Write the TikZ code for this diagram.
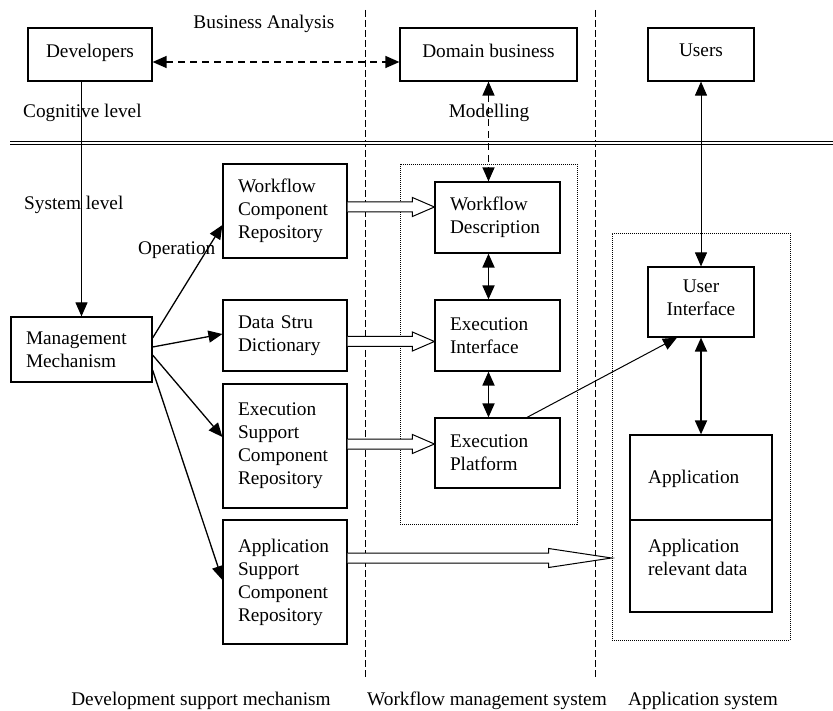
\documentclass[tikz,border=0pt]{standalone}
\usepackage{fontspec}
\setmainfont{Liberation Serif}
\usetikzlibrary{arrows.meta,calc}
\newcommand{\hollowarr}[3]{%
  \draw[line width=1pt, fill=white] let \p1=#1, \p2=#2 in
    (\x1,\y1+5pt) -- (\x2-#3,\y1+5pt) -- (\x2-#3,\y1+9.5pt) -- (\x2,\y1)
    -- (\x2-#3,\y1-9.5pt) -- (\x2-#3,\y1-5pt) -- (\x1,\y1-5pt);
}
\begin{document}
\begin{tikzpicture}[x=1pt,y=-1pt,
  font=\fontsize{19.3}{23}\selectfont,
  >={Triangle[length=14pt,width=12pt]},
  box/.style={draw, line width=1.2pt, inner sep=0pt},
  lbox/.style={box, inner xsep=15pt, align=left},
  dotbox/.style={draw, line width=0.8pt, dash pattern=on 1pt off 1pt, inner sep=0pt},
  vdash/.style={line width=0.8pt, dash pattern=on 7pt off 3pt},
  dasharr/.style={line width=1.3pt, dash pattern=on 7pt off 5pt},
  thinarr/.style={line width=1pt},
  midarr/.style={line width=1.3pt},
  thickarr/.style={line width=1.8pt},
  lbl/.style={inner sep=0pt}
]
\useasboundingbox (0,0) rectangle (833,711);

% separators
\draw[vdash] (365,10) -- (365,677);
\draw[vdash] (595,10) -- (595,677);
\draw[double, double distance=1.6pt, line width=0.9pt] (10,143) -- (833,143);

% dotted groups
\node[dotbox, minimum width=177pt, minimum height=360pt] (wfsys) at (488.5,344) {};
\node[dotbox, minimum width=178pt, minimum height=407pt] (appsys) at (701,436.5) {};

% top boxes
\node[box, minimum width=124pt, minimum height=53pt, text depth=8pt] (dev) at (90,54.5) {Developers};
\node[box, minimum width=177pt, minimum height=53pt, text depth=8pt] (dom) at (488.5,54.5) {Domain business};
\node[box, minimum width=106pt, minimum height=53pt, text depth=8pt] (users) at (701,54.5) {Users};

% left column
\node[lbox, text width=111pt, minimum height=65pt] (mgmt) at (81.5,349.5) {Management\\Mechanism};
\node[lbox, text width=94pt, minimum height=94pt] (wcr) at (285,211) {Workflow\\Component\\Repository};
\node[lbox, text width=94pt, minimum height=71pt] (dsd) at (285,335.5) {Data Stru\\Dictionary};
\node[lbox, text width=94pt, minimum height=124pt] (esr) at (285,446) {Execution\\Support\\Component\\Repository};
\node[lbox, text width=94pt, minimum height=124pt] (asr) at (285,582) {Application\\Support\\Component\\Repository};

% workflow management system
\node[lbox, text width=95pt, minimum height=71pt] (wd) at (497.5,217.5) {Workflow\\Description};
\node[lbox, text width=95pt, minimum height=71pt] (ei) at (497.5,335.5) {Execution\\Interface};
\node[lbox, text width=95pt, minimum height=70pt] (ep) at (497.5,453) {Execution\\Platform};

% application system
\node[box, minimum width=106pt, minimum height=70pt, align=center, text depth=8pt] (ui) at (701,302) {User\\Interface};
\node[box, minimum width=142pt, minimum height=177pt] (app) at (701,523.5) {};
\draw[line width=1.2pt] (app.west |- 0,520) -- (app.east |- 0,520);
\node[lbl, anchor=west, align=left] (apptxt) at (648,479) {Application};
\node[lbl, anchor=west, align=left] (appdata) at (648,557) {Application\\relevant data};

% labels
\node[anchor=base] (ba) at (264,29) {Business Analysis};
\node[lbl, anchor=base west] (cog) at (23,118) {Cognitive level};
\node[anchor=base] (mod) at (489,118) {Modelling};
\node[lbl, anchor=base west] (sys) at (24,210) {System level};
\node[lbl, anchor=base west] (op) at (138,255) {Operation};
\node[anchor=base] (l1) at (201,705) {Development support mechanism};
\node[anchor=base] (l2) at (487,705) {Workflow management system};
\node[anchor=base] (l3) at (703,705) {Application system};

% connectors
\draw[dasharr, <->] ($(dev.east)+(0,7.5)$) -- ($(dom.west)+(0,7.5)$);
\draw[dasharr, <->] (dom.south) -- (dom.south |- wd.north);
\draw[thinarr, ->] (mgmt.north |- dev.south) -- (mgmt.north);
\draw[thinarr, <->] (users) -- (ui);
\draw[thickarr, <->] (dom.south |- wd.south) -- (dom.south |- ei.north);
\draw[thickarr, <->] (dom.south |- ei.south) -- (dom.south |- ep.north);
\draw[thinarr, ->] ($(ep.north)+(29.5,0)$) -- ($(ui.south)+(-24,0)$);
\draw[thickarr, <->] (ui) -- (app);

\draw[midarr, ->] ($(mgmt.east)+(0,-11.5)$) -- ($(wcr.west)+(0,14)$);
\draw[midarr, ->] ($(mgmt.east)+(0,-2.5)$) -- ($(dsd.west)+(0,-1.5)$);
\draw[midarr, ->] ($(mgmt.east)+(0,5.5)$) -- ($(esr.west)+(0,-9)$);
\draw[midarr, ->] ($(mgmt.east)+(0,20.5)$) -- ($(asr.west)+(0,-2)$);

\hollowarr{($(wcr.east)+(0,-4)$)}{(wd.west)}{22pt}
\hollowarr{($(dsd.east)+(0,6)$)}{(ei.west)}{22pt}
\hollowarr{($(esr.east)+(0,-2)$)}{(ep.west)}{22pt}
\hollowarr{($(asr.east)+(0,-24)$)}{(appsys.west)}{63pt}
\end{tikzpicture}
\end{document}
